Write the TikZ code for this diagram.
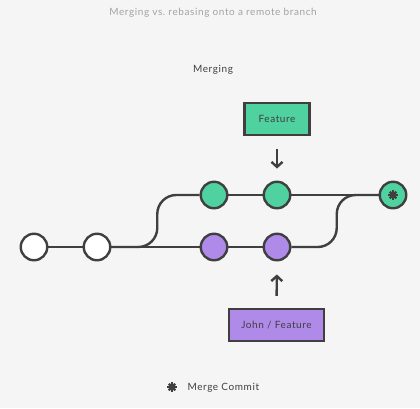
\documentclass[tikz,border=0pt]{standalone}
\usepackage{fontspec}
\setmainfont{Lato}[LetterSpace=6]
\usetikzlibrary{arrows.meta,calc}
\definecolor{bg}{HTML}{F5F5F5}
\definecolor{ink}{HTML}{3F3F3F}
\definecolor{featgreen}{HTML}{4FD1A0}
\definecolor{johnpurple}{HTML}{B08AE8}
\definecolor{titlegray}{HTML}{A3A3A3}
\begin{document}
\begin{tikzpicture}[x=1pt,y=-1pt,
  commit/.style={circle,draw=ink,line width=2.4pt,minimum size=26.5pt,inner sep=0pt},
  whitec/.style={commit,fill=white},
  greenc/.style={commit,fill=featgreen},
  purplec/.style={commit,fill=johnpurple},
  branchbox/.style={draw=ink,line width=2.2pt,minimum height=32pt,inner sep=0pt,font=\fontsize{10}{12}\selectfont,text=ink},
  conn/.style={draw=ink,line width=2.4pt},
  pointer/.style={draw=ink,line width=2.4pt,-{Straight Barb[length=5pt,width=11pt,line width=2.4pt]}},
  lbl/.style={font=\fontsize{10}{12}\selectfont,text=ink}
]
\fill[bg] (0,0) rectangle (420,408);
\node[font=\fontsize{10}{12}\selectfont,text=titlegray] (title) at (213,13) {Merging vs.\ rebasing onto a remote branch};
\node[lbl] (heading) at (213,70) {Merging};

\node[whitec] (w1) at (34,247) {};
\node[whitec] (w2) at (97,247) {};
\node[greenc] (g1) at (214,195) {};
\node[greenc] (g2) at (277,195) {};
\node[purplec] (p1) at (214,247) {};
\node[purplec] (p2) at (277,247) {};
\node[greenc] (m) at (393,195) {};

\node[branchbox,fill=featgreen,minimum width=65pt] (feat) at (277,119) {Feature};
\node[branchbox,fill=johnpurple,minimum width=95pt] (john) at (276.5,325) {John / Feature};

% connectors
\draw[conn] (w1) -- (w2);
\draw[conn] (w2) -- (p1);
\draw[conn] (p1) -- (p2);
\draw[conn] (g1) -- (g2);
\draw[conn] (g2) -- (m);
\coordinate (s1) at ($(w2.east)!0.52!(g1.west)$);
\coordinate (s1a) at (s1 |- w2.east);
\coordinate (s1b) at (s1 |- g1.west);
\draw[conn,rounded corners=19pt] (w2.east) -- (s1a) -- (s1b) -- (g1.west);
\coordinate (s2) at ($(p2.east)!0.52!(m.west)$);
\coordinate (s2a) at (s2 |- p2.east);
\coordinate (s2b) at (s2 |- m.west);
\draw[conn,rounded corners=19pt] (p2.east) -- (s2a) -- (s2b) -- (m.west);

% pointers
\draw[pointer,shorten <=13pt,shorten >=12pt] (feat.south) -- (g2.north);
\draw[pointer,shorten <=12pt,shorten >=13pt] (john.north) -- (p2.south);

% merge asterisk
\foreach \a in {0,45,90,135}{
  \draw[ink,line width=2.2pt] (m.center) ++(\a:4.6pt) -- ++(\a+180:9.2pt);
}

% legend
\coordinate (legstar) at (172,387);
\foreach \a in {0,45,90,135}{
  \draw[ink,line width=2.4pt] (legstar) ++(\a:4.6pt) -- ++(\a+180:9.2pt);
}
\node[lbl,anchor=west] (legtext) at (184,387.5) {Merge Commit};
\end{tikzpicture}
\end{document}
